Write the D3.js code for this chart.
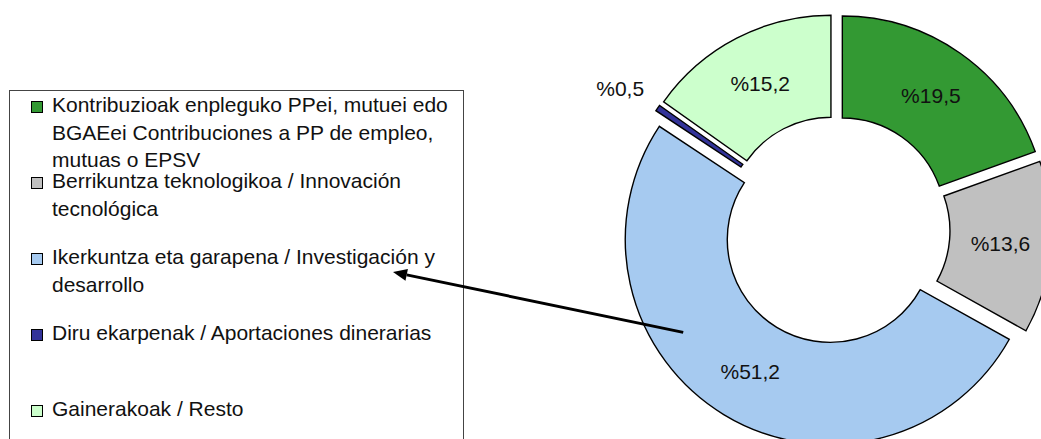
<!DOCTYPE html>
<html>
<head>
<meta charset="utf-8">
<script src="https://cdn.jsdelivr.net/npm/d3@7"></script>
<style>
  body { margin: 0; background: #fff; }
  text { font-family: "Liberation Sans", Arial, sans-serif; fill: #111; }
</style>
</head>
<body>
<svg id="chart"></svg>
<script>
// categories (legend order = clockwise slice order from 12 o'clock)
const categories = [
    "Kontribuzioak enpleguko PPei, mutuei edo BGAEei  Contribuciones a PP de empleo, mutuas o EPSV",
    "Berrikuntza teknologikoa /  Innovación tecnológica",
    "Ikerkuntza eta garapena / Investigación y desarrollo",
    "Diru ekarpenak / Aportaciones dinerarias",
    "Gainerakoak / Resto"
];
// how each legend label wraps in the original
const legendLines = [
    ["Kontribuzioak enpleguko PPei, mutuei edo", "BGAEei  Contribuciones a PP de empleo,", "mutuas o EPSV"],
    ["Berrikuntza teknologikoa /  Innovación", "tecnológica"],
    ["Ikerkuntza eta garapena / Investigación y", "desarrollo"],
    ["Diru ekarpenak / Aportaciones dinerarias"],
    ["Gainerakoak / Resto"]
];
const values = [19.5, 13.6, 51.2, 0.5, 15.2];
const colors = ["#339933", "#c0c0c0", "#a6caf0", "#333399", "#ccffcc"];

const width = 1041, height = 439;
const cx = 836, cy = 230;
const outerR = 205, innerR = 103, explode = 11;
const fontSize = 21;

const svg = d3.select("#chart")
    .attr("width", width)
    .attr("height", height);

const pie = d3.pie().sort(null).value(d => d);
const arcs = pie(values);
const arc = d3.arc().innerRadius(innerR).outerRadius(outerR);

const mid = d => (d.startAngle + d.endAngle) / 2;
const polar = (a, r) => [Math.sin(a) * r, -Math.cos(a) * r];
const fmt = v => "%" + d3.format(".1f")(v).replace(".", ",");

// donut
const donut = svg.append("g")
    .attr("transform", `translate(${cx},${cy})`);

donut.selectAll("path")
    .data(arcs)
    .join("path")
    .attr("transform", d => `translate(${polar(mid(d), explode)})`)
    .attr("d", arc)
    .attr("fill", (d, i) => colors[i])
    .attr("stroke", "#000")
    .attr("stroke-width", 1.4);

donut.selectAll("text.val")
    .data(arcs)
    .join("text")
    .attr("class", "val")
    .attr("transform", d => {
        if (d.data < 2) return `translate(${polar(mid(d) - 0.02, 258)})`;
        const c = arc.centroid(d), o = polar(mid(d), explode);
        return `translate(${c[0] + o[0]},${c[1] + o[1]})`;
    })
    .attr("text-anchor", "middle")
    .attr("dy", "0.36em")
    .style("font-size", fontSize + "px")
    .text(d => fmt(d.data));

// legend
const legend = svg.append("g");
legend.append("rect")
    .attr("x", 9.5).attr("y", 90.5)
    .attr("width", 454).attr("height", 400)
    .attr("fill", "none")
    .attr("stroke", "#444")
    .attr("stroke-width", 1);

const firstBase = 112, entryStep = 76, lineStep = 27.5;
const items = legend.selectAll("g.item")
    .data(categories)
    .join("g")
    .attr("class", "item")
    .attr("transform", (d, i) => `translate(0,${firstBase + i * entryStep})`);

items.append("rect")
    .attr("x", 31.5).attr("y", -10.5)
    .attr("width", 11).attr("height", 11)
    .attr("fill", (d, i) => colors[i])
    .attr("stroke", "#000")
    .attr("stroke-width", 1);

items.append("text")
    .attr("x", 52)
    .style("font-size", fontSize + "px")
    .selectAll("tspan")
    .data((d, i) => legendLines[i])
    .join("tspan")
    .attr("x", 52)
    .attr("y", (d, j) => j * lineStep)
    .text(d => d);

// arrow from the "Ikerkuntza" slice to its legend entry
const blue = arcs[2];
const bo = polar(mid(blue), explode);
const bs = polar(237.7 * Math.PI / 180, 174);
const start = [cx + bo[0] + bs[0], cy + bo[1] + bs[1]];
const tip = [393, firstBase + 2 * entryStep + 8];
const ang = Math.atan2(tip[1] - start[1], tip[0] - start[0]);
const headLen = 14, headW = 6;
const base = [tip[0] - Math.cos(ang) * headLen, tip[1] - Math.sin(ang) * headLen];

svg.append("line")
    .attr("x1", start[0]).attr("y1", start[1])
    .attr("x2", base[0]).attr("y2", base[1])
    .attr("stroke", "#000")
    .attr("stroke-width", 3);

svg.append("path")
    .attr("d", d3.line()([
        tip,
        [base[0] - Math.sin(ang) * headW, base[1] + Math.cos(ang) * headW],
        [base[0] + Math.sin(ang) * headW, base[1] - Math.cos(ang) * headW]
    ]) + "Z")
    .attr("fill", "#000");
</script>
</body>
</html>
